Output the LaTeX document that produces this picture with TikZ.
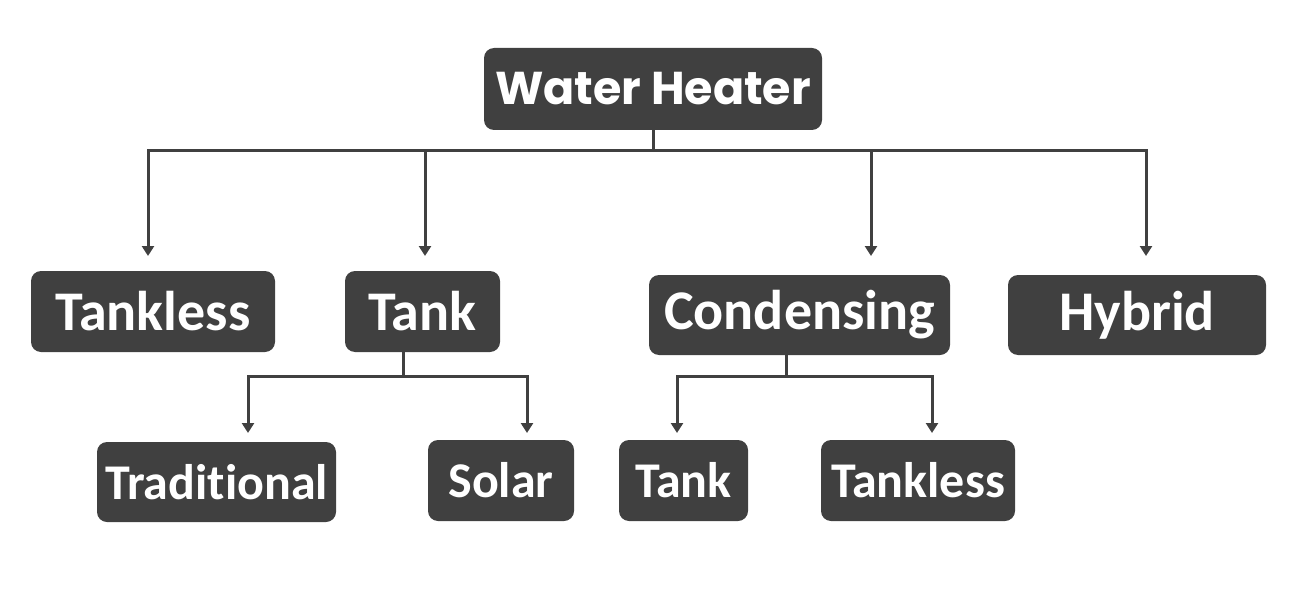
\documentclass[tikz,border=0pt]{standalone}
\usepackage{fontspec}
\setmainfont{Carlito}[Ligatures=NoCommon]
\newfontfamily\titlefont{Poppins}
\usetikzlibrary{arrows.meta}
\definecolor{slate}{HTML}{404040}

\begin{document}
\begin{tikzpicture}[x=0.5pt,y=-0.5pt,cat/.style={fill=slate,text=white,rounded corners=5pt,inner sep=0pt,font=\bfseries\fontsize{28}{30}\selectfont},sub/.style={cat,font=\bfseries\fontsize{25}{27}\selectfont},link/.style={draw=slate,line width=1.5pt},arr/.style={link,-{Triangle[length=5pt,width=6pt]}}]
\useasboundingbox (0,0) rectangle (1295,599);
% top level
\node[cat,minimum width=169pt,minimum height=41pt,font=\titlefont\bfseries\fontsize{23}{25}\selectfont] (heater) at (653,89) {Water Heater};
% second level
\node[cat,minimum width=122pt,minimum height=40.5pt] (tankless) at (153,311.5) {Tankless};
\node[cat,minimum width=77.5pt,minimum height=40.5pt] (tank) at (422.5,311.5) {Tank};
\node[cat,minimum width=150.5pt,minimum height=40pt] (condensing) at (799.5,315) {Condensing};
\node[cat,minimum width=129pt,minimum height=40pt] (hybrid) at (1137,315) {Hybrid};
% third level
\node[sub,minimum width=119.5pt,minimum height=40pt] (traditional) at (216.5,482) {Traditional};
\node[sub,minimum width=73pt,minimum height=40.5pt] (solar) at (501,480.5) {Solar};
\node[sub,minimum width=64.5pt,minimum height=40.5pt] (ctank) at (683.5,480.5) {Tank};
\node[sub,minimum width=97pt,minimum height=40.5pt] (ctankless) at (918,480.5) {Tankless};
% connectors
\coordinate (bus) at (653,150);
\draw[link] (heater.south) -- (bus);
\foreach \n/\x in {tankless/148,tank/425,condensing/871,hybrid/1146}{
  \coordinate (in-\n) at (\x,256);
  \draw[arr] (bus) -| (in-\n);
}
\coordinate (tankbus) at (403,376);
\draw[link] (tank.south -| tankbus) -- (tankbus);
\coordinate (in-traditional) at (248,433);
\coordinate (in-solar) at (527,433);
\draw[arr] (tankbus) -| (in-traditional);
\draw[arr] (tankbus) -| (in-solar);
\coordinate (condbus) at (786,376);
\draw[link] (condensing.south -| condbus) -- (condbus);
\coordinate (in-ctank) at (677,433);
\coordinate (in-ctankless) at (932,433);
\draw[arr] (condbus) -| (in-ctank);
\draw[arr] (condbus) -| (in-ctankless);
\end{tikzpicture}
\end{document}
